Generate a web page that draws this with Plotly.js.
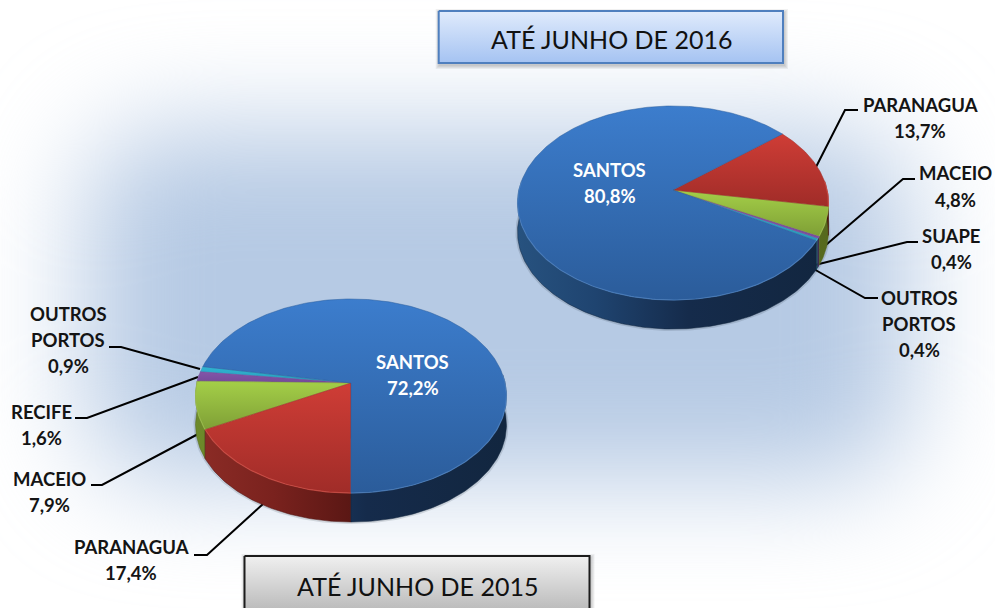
<!DOCTYPE html>
<html><head><meta charset="utf-8">
<script src="https://cdn.plot.ly/plotly-3.0.1.min.js"></script>
<style>
html,body{margin:0;padding:0;background:#fff;overflow:hidden}
#bgwrap{position:absolute;left:0;top:0;width:995px;height:608px;overflow:hidden;background:#fff}
#bg{position:absolute;left:85px;top:130px;width:825px;height:350px;border-radius:80px;background:#b6cae4;filter:blur(55px)}
#chart{position:absolute;left:0;top:0;width:995px;height:608px}
</style></head><body><div id="bgwrap"><div id="bg"></div></div><div id="chart"></div>
<script>
// ---- data ----
const names2016 = ["SANTOS","PARANAGUA","MACEIO","SUAPE","OUTROS PORTOS"];
const values2016 = [80.8,13.7,4.8,0.4,0.4];
const names2015 = ["SANTOS","PARANAGUA","MACEIO","RECIFE","OUTROS PORTOS"];
const values2015 = [72.2,17.4,7.9,1.6,0.9];
const title2016 = "ATÉ JUNHO DE 2016";
const title2015 = "ATÉ JUNHO DE 2015";

// ---- geometry / style ----
const FONT = "Lato, 'Open Sans', sans-serif";
const pie2016 = {apex:[673,190], start:-29.8, depth:29};
const pie2015 = {apex:[351,383], start:169.9, depth:29};
const K=0.134, A=95.3, R=154.1;
const styles = {
  "SANTOS":{top:["#3c7dcd","#2b5c9a"],rim:"rgba(110,165,230,.4)",wall:[[0,"#27527f"],[.25,"#1f4470"],[.55,"#152b4b"],[1,"#12263f"]]},
  "PARANAGUA":{top:["#cf3d36","#a02c28"],rim:"rgba(225,90,80,.6)",wall:[[0,"#8c2c26"],[.25,"#7a221e"],[.55,"#541512"],[1,"#4a100e"]]},
  "MACEIO":{top:["#a4cf48","#7f9f36"],rim:"rgba(175,210,90,.5)",wall:[[0,"#6d8a2a"],[.5,"#5f7623"],[1,"#56691e"]]},
  "SUAPE":{top:["#8355a8","#7a4d9d"],rim:"rgba(140,100,180,.6)",wall:[[0,"#54346e"],[1,"#3f2855"]]},
  "RECIFE":{top:["#8355a8","#74499a"],rim:"rgba(140,100,180,.6)",wall:[[0,"#54346e"],[1,"#3f2855"]]},
  "OUTROS PORTOS":{top:["#2fb4d2","#2a9cb8"],rim:"rgba(90,190,220,.6)",wall:[[0,"#1c6c80"],[1,"#155565"]]}
};
// perspective projection of a point of the pie's rim
function rim(p,deg){
  const t=deg*Math.PI/180,u=Math.cos(t),v=Math.sin(t),d=1+K*v;
  return [p.apex[0]+R*u/d, p.apex[1]-A*v/d];
}
function pieTraces(pie,names,values){
  const total=values.reduce((a,b)=>a+b,0);
  const left=pie.apex[0]-R/Math.sqrt(1-K*K), right=pie.apex[0]+R/Math.sqrt(1-K*K);
  const shadows=[],walls=[],tops=[],rims=[];
  let a=pie.start;
  values.forEach((val,i)=>{
    const s=styles[names[i]], span=val/total*360, pts=[];
    const n=Math.max(2,Math.ceil(span));
    for(let j=0;j<=n;j++) pts.push(a+span*j/n);
    const arc=pts.map(d=>rim(pie,d));
    const apexed=[pie.apex,...arc,pie.apex];
    const ys=apexed.map(q=>q[1]);
    tops.push({x:apexed.map(q=>q[0]),y:ys,mode:"lines",fill:"toself",hoverinfo:"skip",
      line:{width:.5,color:s.top[1]},
      fillgradient:{type:"vertical",start:Math.min(...ys),stop:Math.max(...ys),colorscale:[[0,s.top[0]],[1,s.top[1]]]}});
    const front=pts.filter(d=>Math.sin(d*Math.PI/180)<0.1).map(d=>rim(pie,d));
    if(front.length>1){
      const lower=front.map(q=>[q[0],q[1]+pie.depth]);
      const poly=[...front,...lower.slice().reverse(),front[0]];
      shadows.push({x:lower.map(q=>q[0]),y:lower.map(q=>q[1]),mode:"lines",hoverinfo:"skip",line:{width:4,color:"rgba(30,40,60,.14)"}});
      walls.push({x:poly.map(q=>q[0]),y:poly.map(q=>q[1]),mode:"lines",fill:"toself",hoverinfo:"skip",
        line:{width:.5,color:s.wall[s.wall.length-1][1]},
        fillgradient:{type:"horizontal",start:left,stop:right,colorscale:s.wall}});
      rims.push({x:front.map(q=>q[0]),y:front.map(q=>q[1]),mode:"lines",hoverinfo:"skip",line:{width:1.2,color:s.rim}});
    }
    a+=span;
  });
  return [...shadows,...walls,...tops,...rims];
}
// slices run clockwise in list order, so they are walked reversed going counter-clockwise
function ordered(names,values){ return [names.slice().reverse(),values.slice().reverse()]; }

function box(x0,x1,y0,y1,c0,c1,border){
  const xs=[x0,x1,x1,x0,x0],ys=[y0,y0,y1,y1,y0];
  return {x:xs,y:ys,mode:"lines",fill:"toself",hoverinfo:"skip",line:{width:2,color:border},
    fillgradient:{type:"vertical",start:y0,stop:y1,colorscale:[[0,c0],[1,c1]]}};
}
function leader(pts){
  return {x:pts.map(q=>q[0]),y:pts.map(q=>q[1]),mode:"lines",hoverinfo:"skip",line:{width:2,color:"#000"}};
}
const fmt=v=>v.toFixed(1).replace(".",",")+"%";
const [n16,v16]=ordered(names2016,values2016);
const [n15,v15]=ordered(names2015,values2015);

const traces=[
  box(438.7,783,11,63,"#e0ebfc","#a5c3f2","#4f7fbe"),
  box(244.5,589.5,556,612,"#f0f0f0","#b9b9b9","#1c1c1c"),
  leader([[816,167],[845,110],[858,110]]),
  leader([[820,250],[903,179],[915,179]]),
  leader([[811,266],[907,242],[918,242]]),
  leader([[812,268],[865,298],[878,298]]),
  leader([[109,347],[121,347],[200,369]]),
  leader([[75,418],[87,418],[198,377]]),
  leader([[91,485],[102,485],[200,433]]),
  leader([[194,555],[207,555],[263,504]]),
  ...pieTraces(pie2016,n16,v16),
  ...pieTraces(pie2015,n15,v15)
];
function label(x,y,t,color,size,bold){
  const txt=bold?"<b>"+t+"</b>":t;
  return {x,y,text:txt,showarrow:false,xanchor:"center",yanchor:"middle",xref:"x",yref:"y",
    font:{family:FONT,size,color}};
}
const L=(x,ys,lines,c)=>lines.map((t,i)=>label(x,ys[i],t,c||"#141414",18.5,true));
const annotations=[
  label(611.5,39,title2016,"#111",25,false),
  label(417.5,586,title2015,"#111",25,false),
  ...L(609.5,[170,196],[names2016[0],fmt(values2016[0])],"#fff"),
  ...L(412.5,[362,388],[names2015[0],fmt(values2015[0])],"#fff"),
  ...L(920,[105,131],[names2016[1],fmt(values2016[1])]),
  ...L(955.5,[173,200],[names2016[2],fmt(values2016[2])]),
  ...L(951,[236,262],[names2016[3],fmt(values2016[3])]),
  ...L(919,[298,324,350],["OUTROS","PORTOS",fmt(values2016[4])]),
  ...L(68,[314,340,366],["OUTROS","PORTOS",fmt(values2015[4])]),
  ...L(41,[412,438],[names2015[3],fmt(values2015[3])]),
  ...L(49,[479,505],[names2015[2],fmt(values2015[2])]),
  ...L(131,[547,573],[names2015[1],fmt(values2015[1])])
];
const softShadow=(x0,x1,y0,y1)=>[4,3,2,1].map(d=>({type:"rect",x0:x0+1-d,x1:x1+1+d,y0:y0+2-d,y1:y1+2+d,
  fillcolor:"rgba(50,50,50,.07)",line:{width:0},layer:"below"}));
const layout={width:995,height:608,margin:{l:0,r:0,t:0,b:0},showlegend:false,
  paper_bgcolor:"rgba(0,0,0,0)",plot_bgcolor:"rgba(0,0,0,0)",
  xaxis:{range:[0,995],visible:false,fixedrange:true},
  yaxis:{range:[608,0],visible:false,fixedrange:true},
  shapes:[...softShadow(438.7,783,11,63),...softShadow(244.5,589.5,556,612)],
  annotations};
Plotly.newPlot("chart",traces,layout,{staticPlot:true,displayModeBar:false});
</script></body></html>
